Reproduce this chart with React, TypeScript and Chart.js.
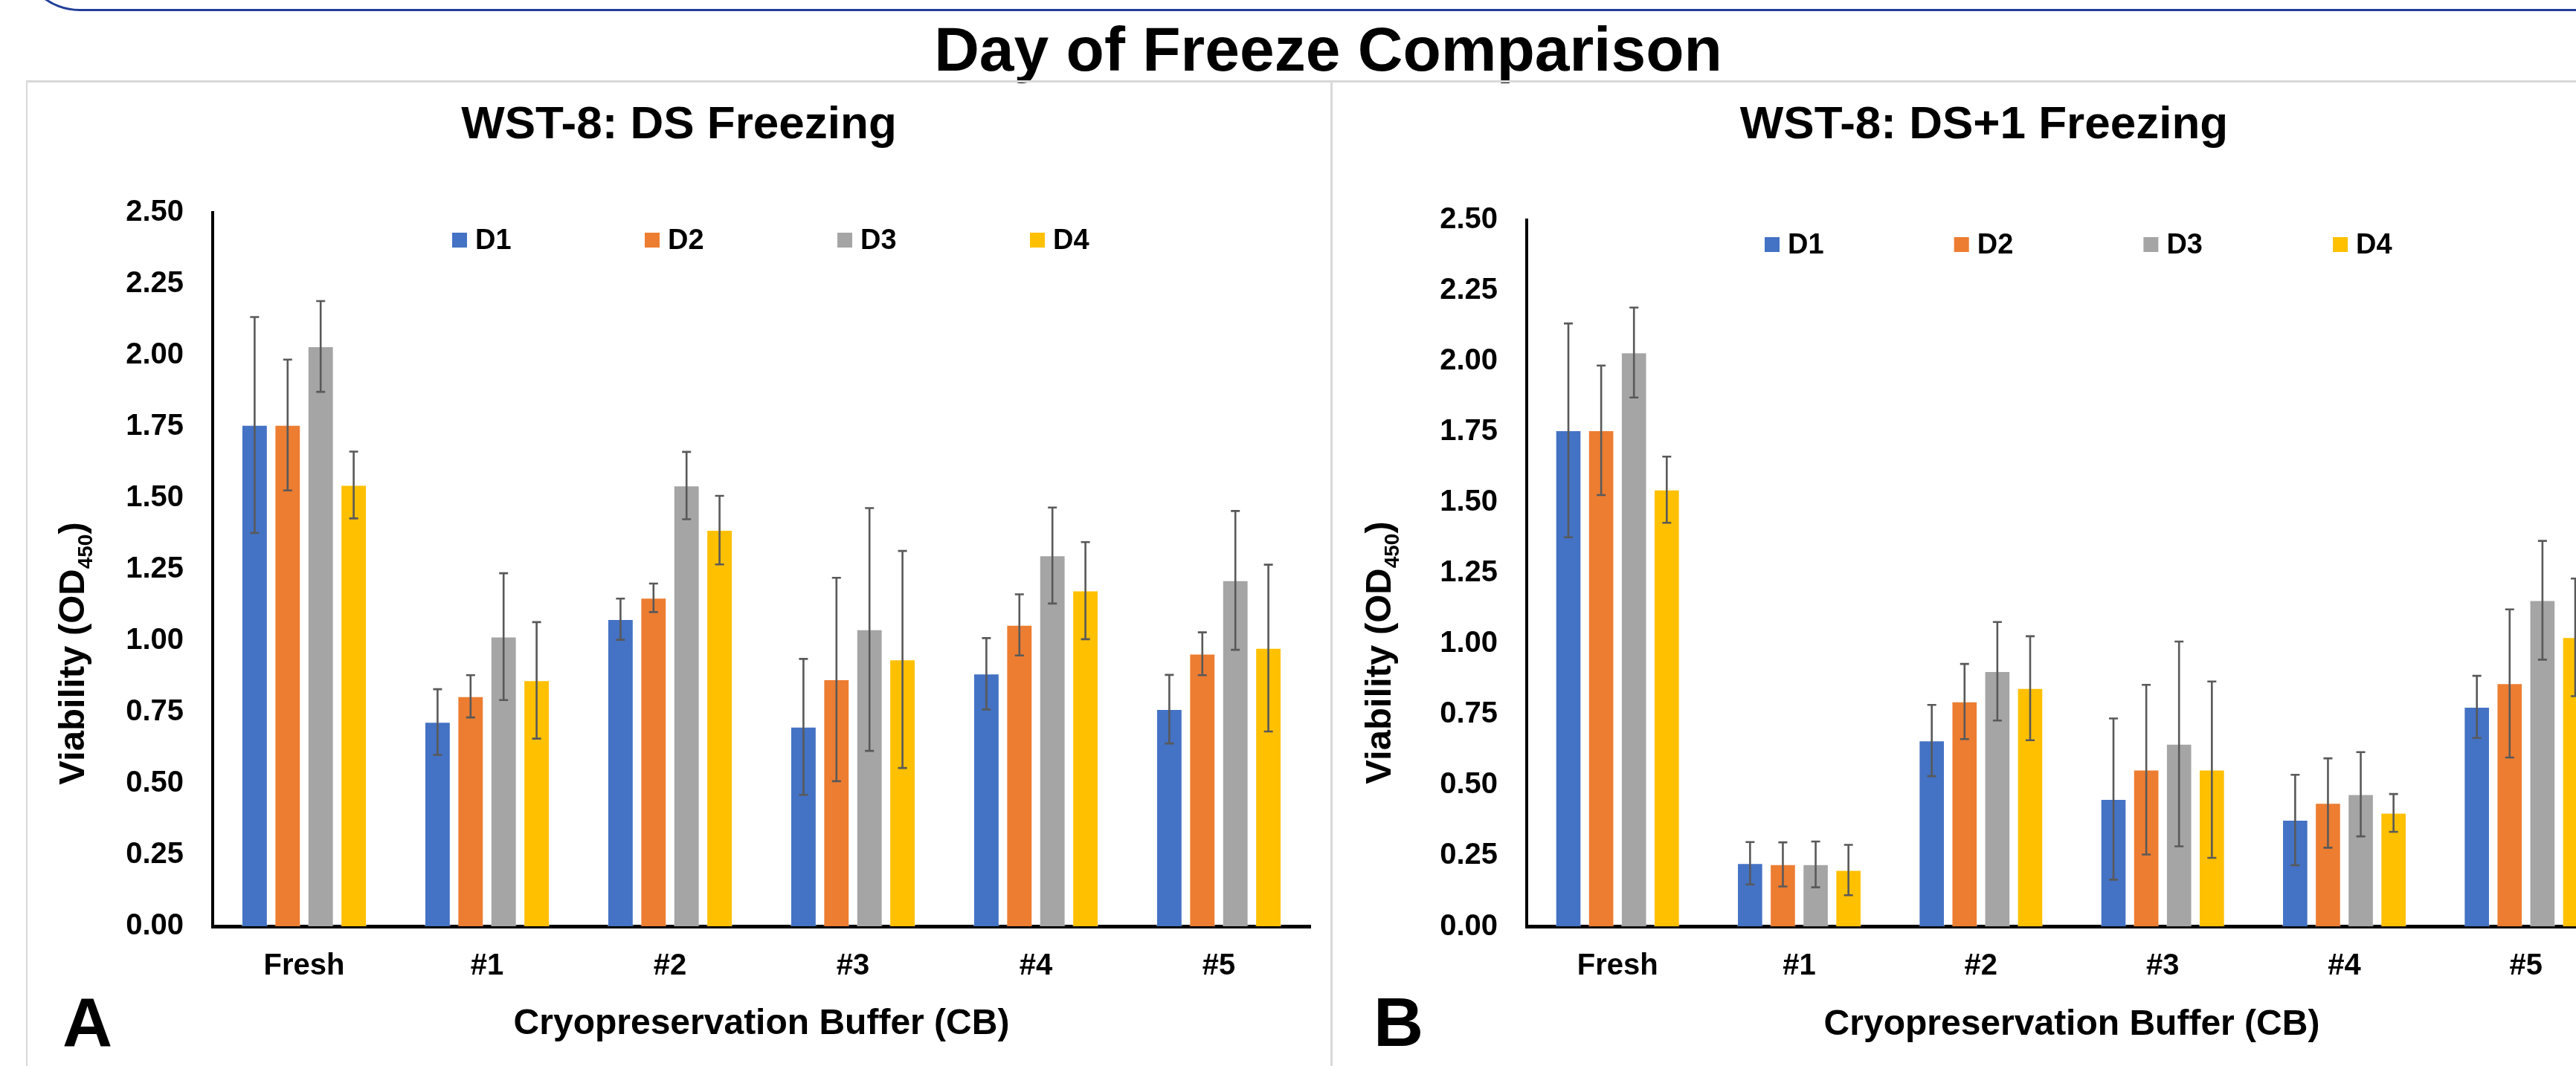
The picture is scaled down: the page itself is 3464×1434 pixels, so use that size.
import React, { useEffect, useRef } from 'react';
import { Chart, registerables } from 'chart.js';

Chart.register(...registerables);

const FONT = '"Liberation Sans", Arial, Helvetica, sans-serif';

// ---------------- data ----------------
const categories = ['Fresh', '#1', '#2', '#3', '#4', '#5'];
const seriesNames = ['D1', 'D2', 'D3', 'D4'];
const seriesColors = ['#4472C4', '#ED7D31', '#A5A5A5', '#FFC000'];
const yMin = 0;
const yMax = 2.5;
const yStep = 0.25;

const mainTitle = 'Day of Freeze Comparison';
const titleA = 'WST-8: DS Freezing';
const titleB = 'WST-8: DS+1 Freezing';
const xAxisTitle = 'Cryopreservation Buffer (CB)';
const yAxisTitleMain = 'Viability (OD';
const yAxisTitleSub = '450';
const yAxisTitleClose = ')';

// Panel A: DS freezing (means)
const dsD1 = [1.755, 0.715, 1.075, 0.698, 0.884, 0.760];
const dsD2 = [1.755, 0.805, 1.150, 0.864, 1.055, 0.954];
const dsD3 = [2.030, 1.014, 1.543, 1.039, 1.298, 1.211];
const dsD4 = [1.545, 0.861, 1.387, 0.934, 1.175, 0.974];
// Panel A: error bars
const dsErrD1 = [0.378, 0.115, 0.072, 0.238, 0.125, 0.120];
const dsErrD2 = [0.229, 0.074, 0.050, 0.356, 0.107, 0.075];
const dsErrD3 = [0.159, 0.222, 0.118, 0.425, 0.168, 0.243];
const dsErrD4 = [0.117, 0.204, 0.120, 0.380, 0.170, 0.292];

// Panel B: DS+1 freezing (means)
const ds1D1 = [1.755, 0.224, 0.658, 0.451, 0.377, 0.777];
const ds1D2 = [1.755, 0.220, 0.796, 0.555, 0.437, 0.860];
const ds1D3 = [2.030, 0.220, 0.903, 0.646, 0.468, 1.154];
const ds1D4 = [1.545, 0.200, 0.843, 0.555, 0.402, 1.023];
// Panel B: error bars
const ds1ErrD1 = [0.378, 0.075, 0.126, 0.285, 0.160, 0.110];
const ds1ErrD2 = [0.229, 0.078, 0.133, 0.300, 0.158, 0.262];
const ds1ErrD3 = [0.159, 0.081, 0.174, 0.362, 0.149, 0.210];
const ds1ErrD4 = [0.117, 0.089, 0.184, 0.312, 0.067, 0.208];

// ---------------- layout (page coordinates) ----------------
const LAYOUT_A = {
  canvas: { left: 37, top: 111, width: 1752, height: 1323 },
  area: { left: 286, right: 1762, top: 285.5, bottom: 1246 },
  titleCenterX: 913,
  titleMiddleY: 168.5,
  legend: { x: 608, y: 323, step: 259 },
  yTitle: { baselineX: 113, centerY: 879 },
  xTitleMiddleY: 1377.8,
  xTickMiddleY: 1300,
  yTickRight: 247,
};
const LAYOUT_B = {
  canvas: { left: 1792, top: 111, width: 1755, height: 1323 },
  area: { left: 2053, right: 3519, top: 295.5, bottom: 1246.5 },
  titleCenterX: 2668,
  titleMiddleY: 168.5,
  legend: { x: 2373, y: 329, step: 254.7 },
  yTitle: { baselineX: 1870, centerY: 878 },
  xTitleMiddleY: 1378.8,
  xTickMiddleY: 1300,
  yTickRight: 2014,
};

const TITLE_SIZE = 62;
const TICK_SIZE = 40;
const XTITLE_SIZE = 48;
const YTITLE_SIZE = 49;
const LEGEND_SIZE = 38;

// ---------------- plugins ----------------
const errorBarPlugin = {
  id: 'errorBars',
  afterDatasetsDraw(chart: any, _args: any, opts: any) {
    const { ctx } = chart;
    const yScale = chart.scales.y;
    chart.data.datasets.forEach((ds: any, i: number) => {
      const meta = chart.getDatasetMeta(i);
      const errs: number[] = opts.errors[i];
      meta.data.forEach((bar: any, j: number) => {
        const v = ds.data[j] as number;
        const e = errs[j];
        const x = bar.x;
        const yt = yScale.getPixelForValue(v + e);
        const yb = yScale.getPixelForValue(Math.max(v - e, yMin));
        ctx.save();
        ctx.strokeStyle = opts.color;
        ctx.lineWidth = opts.width;
        ctx.beginPath();
        ctx.moveTo(x, yt);
        ctx.lineTo(x, yb);
        ctx.moveTo(x - opts.cap, yt);
        ctx.lineTo(x + opts.cap, yt);
        ctx.moveTo(x - opts.cap, yb);
        ctx.lineTo(x + opts.cap, yb);
        ctx.stroke();
        ctx.restore();
      });
    });
  },
};

const legendPlugin = {
  id: 'boxLegend',
  afterDraw(chart: any, _args: any, o: any) {
    const { ctx } = chart;
    ctx.save();
    chart.data.datasets.forEach((d: any, i: number) => {
      const x = o.x + i * o.step;
      ctx.fillStyle = d.backgroundColor;
      ctx.fillRect(x, o.y - o.box / 2, o.box, o.box);
      ctx.fillStyle = '#000';
      ctx.font = `bold ${o.size}px ${FONT}`;
      ctx.textBaseline = 'middle';
      ctx.textAlign = 'left';
      ctx.fillText(d.label, x + o.box + o.gap, o.y + 2);
    });
    ctx.restore();
  },
};

const yTitlePlugin = {
  id: 'yTitleSub',
  afterDraw(chart: any, _args: any, o: any) {
    const { ctx } = chart;
    ctx.save();
    ctx.fillStyle = '#000';
    const mainFont = `bold ${o.size}px ${FONT}`;
    const subFont = `bold ${o.subSize}px ${FONT}`;
    ctx.font = mainFont;
    const w1 = ctx.measureText(o.text).width;
    const w3 = ctx.measureText(o.close).width;
    ctx.font = subFont;
    const w2 = ctx.measureText(o.sub).width;
    const total = w1 + w2 + w3;
    ctx.translate(o.x, o.y);
    ctx.rotate(-Math.PI / 2);
    ctx.textAlign = 'left';
    ctx.textBaseline = 'alphabetic';
    let x = -total / 2;
    ctx.font = mainFont;
    ctx.fillText(o.text, x, 0);
    x += w1;
    ctx.font = subFont;
    ctx.fillText(o.sub, x, o.subOffset);
    x += w2;
    ctx.font = mainFont;
    ctx.fillText(o.close, x, 0);
    ctx.restore();
  },
};

function PanelChart({ layout, title, values, errors }: any) {
  const ref = useRef<HTMLCanvasElement>(null);
  const c = layout.canvas;
  useEffect(() => {
    const cl = c.left;
    const ct = c.top;
    const aL = layout.area.left - cl;
    const aR = layout.area.right - cl;
    const aT = layout.area.top - ct;
    const aB = layout.area.bottom - ct;
    const padL = 2 * (layout.titleCenterX - cl) - aR;
    const padR = c.width - aR;
    const yWidth = aL - padL;
    const xHeight = c.height - aB;
    const titleLH = TITLE_SIZE * 1.2;
    const titlePadTop = layout.titleMiddleY - ct - titleLH / 2;
    const titlePadBottom = aT - titlePadTop - titleLH;
    const xTickPad = layout.xTickMiddleY - layout.area.bottom - (TICK_SIZE * 1.2) / 2;
    const xTitlePadBottom = ct + c.height - layout.xTitleMiddleY - (XTITLE_SIZE * 1.2) / 2;
    const yTickPad = layout.area.left - layout.yTickRight;

    const chart = new Chart(ref.current as HTMLCanvasElement, {
      type: 'bar',
      data: {
        labels: categories,
        datasets: seriesNames.map((name, i) => ({
          label: name,
          data: values[i],
          backgroundColor: seriesColors[i],
          borderColor: 'rgba(255,255,255,0.45)',
          borderWidth: 1,
          borderSkipped: 'bottom',
          categoryPercentage: 0.722,
          barPercentage: 0.785,
        })),
      },
      options: {
        responsive: false,
        maintainAspectRatio: false,
        animation: false,
        devicePixelRatio: 1,
        events: [],
        layout: { padding: { left: padL, right: padR, top: 0, bottom: 0 } },
        plugins: {
          legend: { display: false },
          tooltip: { enabled: false },
          title: {
            display: true,
            text: title,
            color: '#000',
            font: { family: FONT, size: TITLE_SIZE, weight: 'bold', lineHeight: 1.2 },
            padding: { top: titlePadTop, bottom: titlePadBottom },
          },
          errorBars: { errors, color: '#595959', width: 2.6, cap: 6 },
          boxLegend: {
            x: layout.legend.x - cl,
            y: layout.legend.y - ct,
            step: layout.legend.step,
            box: 20,
            gap: 11,
            size: LEGEND_SIZE,
          },
          yTitleSub: {
            x: layout.yTitle.baselineX - cl,
            y: layout.yTitle.centerY - ct,
            text: yAxisTitleMain,
            sub: yAxisTitleSub,
            close: yAxisTitleClose,
            size: YTITLE_SIZE,
            subSize: 28,
            subOffset: 11,
          },
        } as any,
        scales: {
          x: {
            type: 'category',
            offset: true,
            grid: { display: false, drawTicks: false },
            border: { display: true, color: '#000', width: 5 },
            ticks: {
              color: '#000',
              font: { family: FONT, size: TICK_SIZE, weight: 'bold', lineHeight: 1.2 },
              padding: xTickPad,
              autoSkip: false,
              maxRotation: 0,
              minRotation: 0,
            },
            title: {
              display: true,
              text: xAxisTitle,
              color: '#000',
              font: { family: FONT, size: XTITLE_SIZE, weight: 'bold', lineHeight: 1.2 },
              padding: { top: 0, bottom: xTitlePadBottom },
            },
            afterFit: (s: any) => {
              s.height = xHeight;
            },
          },
          y: {
            type: 'linear',
            min: yMin,
            max: yMax,
            grid: { display: false, drawTicks: false },
            border: { display: true, color: '#000', width: 4 },
            ticks: {
              stepSize: yStep,
              color: '#000',
              font: { family: FONT, size: TICK_SIZE, weight: 'bold', lineHeight: 1.2 },
              padding: yTickPad,
              callback: (v: any) => Number(v).toFixed(2),
            },
            afterFit: (s: any) => {
              s.width = yWidth;
            },
          },
        },
      } as any,
      plugins: [errorBarPlugin, legendPlugin, yTitlePlugin],
    });
    return () => chart.destroy();
  }, []);
  return (
    <canvas
      ref={ref}
      width={c.width}
      height={c.height}
      style={{ position: 'absolute', left: c.left, top: c.top, width: c.width, height: c.height }}
    />
  );
}

export default function App() {
  return (
    <div
      style={{
        position: 'absolute',
        left: 0,
        top: 0,
        width: 3464,
        height: 1434,
        overflow: 'hidden',
        background: '#fff',
        fontFamily: FONT,
      }}
    >
      {/* blue rounded frame (bottom edge visible) */}
      <div
        style={{
          position: 'absolute',
          left: 26,
          top: -200,
          width: 4000,
          height: 215,
          boxSizing: 'border-box',
          border: '3px solid #213F98',
          borderRadius: 81,
        }}
      />
      {/* main title */}
      <div
        style={{
          position: 'absolute',
          left: 0,
          top: 24,
          width: 3572,
          textAlign: 'center',
          fontSize: 84,
          lineHeight: '84px',
          fontWeight: 'bold',
          color: '#000',
          whiteSpace: 'nowrap',
        }}
      >
        {mainTitle}
      </div>
      {/* panel borders */}
      <div style={{ position: 'absolute', left: 35, top: 108, width: 3500, height: 3, background: '#D9D9D9' }} />
      <div style={{ position: 'absolute', left: 35, top: 108, width: 2, height: 1400, background: '#D9D9D9' }} />
      <div style={{ position: 'absolute', left: 1789, top: 108, width: 3, height: 1400, background: '#D9D9D9' }} />

      <PanelChart
        layout={LAYOUT_A}
        title={titleA}
        values={[dsD1, dsD2, dsD3, dsD4]}
        errors={[dsErrD1, dsErrD2, dsErrD3, dsErrD4]}
      />
      <PanelChart
        layout={LAYOUT_B}
        title={titleB}
        values={[ds1D1, ds1D2, ds1D3, ds1D4]}
        errors={[ds1ErrD1, ds1ErrD2, ds1ErrD3, ds1ErrD4]}
      />

      {/* panel letters */}
      <div
        style={{
          position: 'absolute',
          left: 84,
          top: 1329,
          fontSize: 93,
          lineHeight: '93px',
          fontWeight: 'bold',
          color: '#000',
        }}
      >
        A
      </div>
      <div
        style={{
          position: 'absolute',
          left: 1847,
          top: 1329,
          fontSize: 93,
          lineHeight: '93px',
          fontWeight: 'bold',
          color: '#000',
        }}
      >
        B
      </div>
    </div>
  );
}
